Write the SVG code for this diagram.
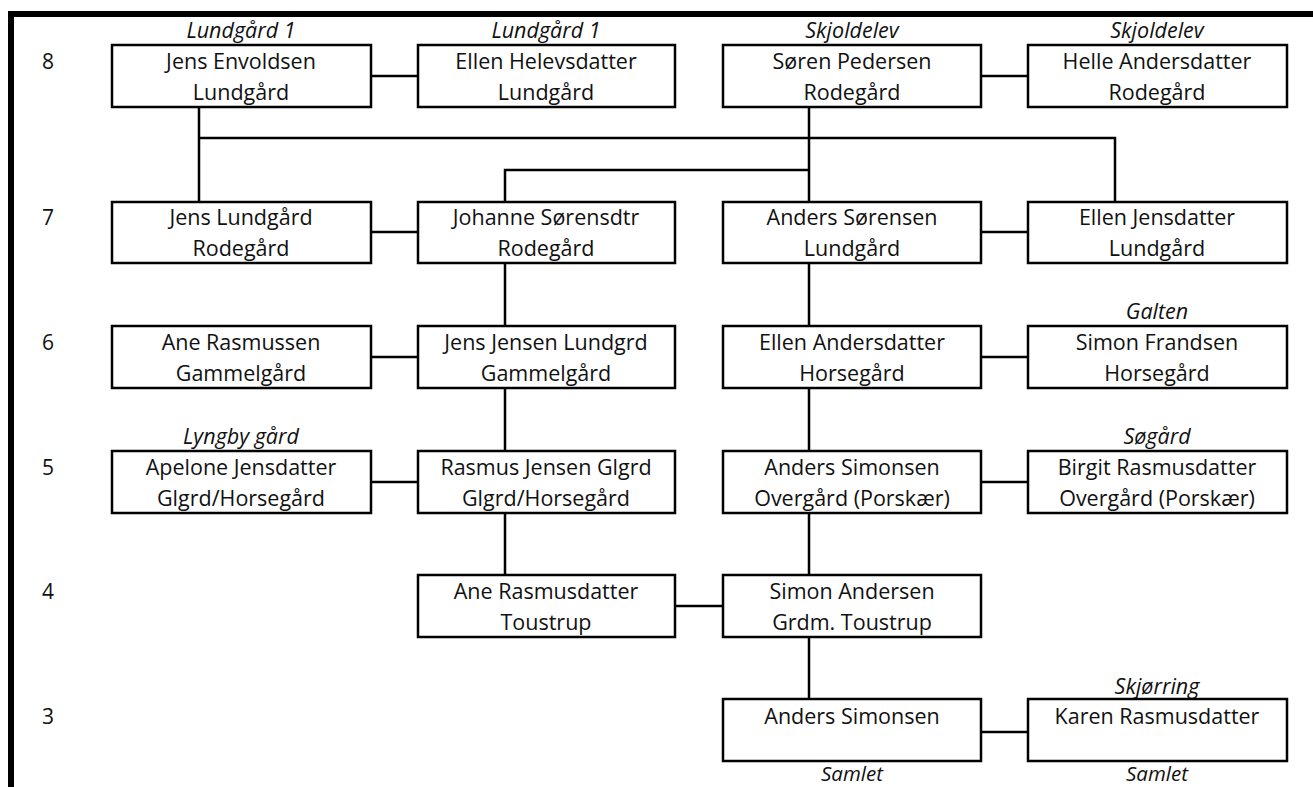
<svg xmlns="http://www.w3.org/2000/svg" width="1313" height="787" viewBox="0 0 1313 787">
<style>
.box{fill:#fff;stroke:#000;stroke-width:2.5}
.ln{stroke:#000;stroke-width:2.5;fill:none}
.nm{font-family:"Open Sans","Liberation Sans",sans-serif;font-size:21.5px;fill:#111;text-anchor:middle}
.pl{font-family:"Open Sans","Liberation Sans",sans-serif;font-size:21.5px;font-style:italic;fill:#111;text-anchor:middle}
.sm{font-family:"Open Sans","Liberation Sans",sans-serif;font-size:20.5px;font-style:italic;fill:#111;text-anchor:middle}
.gn{font-family:"Open Sans","Liberation Sans",sans-serif;font-size:21px;fill:#111;text-anchor:middle}
</style>
<rect width="1313" height="787" fill="#fff"/>
<g id="frame">
<rect x="8" y="11" width="1305" height="6" fill="#000"/>
<rect x="8" y="11" width="6" height="776" fill="#000"/>
</g>
<g id="generations">
<text class="gn" x="48" y="69">8</text>
<text class="gn" x="48" y="225">7</text>
<text class="gn" x="48" y="350">6</text>
<text class="gn" x="48" y="475">5</text>
<text class="gn" x="48" y="599">4</text>
<text class="gn" x="48" y="724">3</text>
</g>
<g id="connectors">
<path class="ln" d="M371 76H418M981 76H1028"/>
<path class="ln" d="M199 107V202M199 138H1115V202M809 107V202M505 202V170H809"/>
<path class="ln" d="M371 232H418M981 232H1028"/>
<path class="ln" d="M505 263V326M809 263V326"/>
<path class="ln" d="M371 357H418M981 357H1028"/>
<path class="ln" d="M505 388V451M809 388V451"/>
<path class="ln" d="M371 482H418M981 482H1028"/>
<path class="ln" d="M505 513V575M809 513V575"/>
<path class="ln" d="M675 606H723"/>
<path class="ln" d="M809 637V699"/>
<path class="ln" d="M981 732H1028"/>
</g>
<g id="n-jens-envoldsen"><text class="pl" x="241" y="38">Lundgård 1</text><rect class="box" x="112" y="45" width="259" height="62"/><text class="nm" x="241" y="69">Jens Envoldsen</text><text class="nm" x="241" y="100">Lundgård</text></g>
<g id="n-ellen-helevsdatter"><text class="pl" x="546" y="38">Lundgård 1</text><rect class="box" x="418" y="45" width="257" height="62"/><text class="nm" x="546" y="69">Ellen Helevsdatter</text><text class="nm" x="546" y="100">Lundgård</text></g>
<g id="n-soeren-pedersen"><text class="pl" x="852" y="38">Skjoldelev</text><rect class="box" x="723" y="45" width="258" height="62"/><text class="nm" x="852" y="69">Søren Pedersen</text><text class="nm" x="852" y="100">Rodegård</text></g>
<g id="n-helle-andersdatter"><text class="pl" x="1157" y="38">Skjoldelev</text><rect class="box" x="1028" y="45" width="259" height="62"/><text class="nm" x="1157" y="69">Helle Andersdatter</text><text class="nm" x="1157" y="100">Rodegård</text></g>

<g id="n-jens-lundgaard"><rect class="box" x="112" y="202" width="259" height="61"/><text class="nm" x="241" y="225">Jens Lundgård</text><text class="nm" x="241" y="256">Rodegård</text></g>
<g id="n-johanne"><rect class="box" x="418" y="202" width="257" height="61"/><text class="nm" x="546" y="225">Johanne Sørensdtr</text><text class="nm" x="546" y="256">Rodegård</text></g>
<g id="n-anders-soerensen"><rect class="box" x="723" y="202" width="258" height="61"/><text class="nm" x="852" y="225">Anders Sørensen</text><text class="nm" x="852" y="256">Lundgård</text></g>
<g id="n-ellen-jensdatter"><rect class="box" x="1028" y="202" width="259" height="61"/><text class="nm" x="1157" y="225">Ellen Jensdatter</text><text class="nm" x="1157" y="256">Lundgård</text></g>

<g id="n-ane-rasmussen"><rect class="box" x="112" y="326" width="259" height="62"/><text class="nm" x="241" y="350">Ane Rasmussen</text><text class="nm" x="241" y="381">Gammelgård</text></g>
<g id="n-jens-jensen"><rect class="box" x="418" y="326" width="257" height="62"/><text class="nm" x="546" y="350">Jens Jensen Lundgrd</text><text class="nm" x="546" y="381">Gammelgård</text></g>
<g id="n-ellen-andersdatter"><rect class="box" x="723" y="326" width="258" height="62"/><text class="nm" x="852" y="350">Ellen Andersdatter</text><text class="nm" x="852" y="381">Horsegård</text></g>
<g id="n-simon-frandsen"><text class="pl" x="1157" y="319">Galten</text><rect class="box" x="1028" y="326" width="259" height="62"/><text class="nm" x="1157" y="350">Simon Frandsen</text><text class="nm" x="1157" y="381">Horsegård</text></g>

<g id="n-apelone"><text class="pl" x="241" y="444">Lyngby gård</text><rect class="box" x="112" y="451" width="259" height="62"/><text class="nm" x="241" y="475">Apelone Jensdatter</text><text class="nm" x="241" y="506">Glgrd/Horsegård</text></g>
<g id="n-rasmus-jensen"><rect class="box" x="418" y="451" width="257" height="62"/><text class="nm" x="546" y="475">Rasmus Jensen Glgrd</text><text class="nm" x="546" y="506">Glgrd/Horsegård</text></g>
<g id="n-anders-simonsen-5"><rect class="box" x="723" y="451" width="258" height="62"/><text class="nm" x="852" y="475">Anders Simonsen</text><text class="nm" x="852" y="506">Overgård (Porskær)</text></g>
<g id="n-birgit"><text class="pl" x="1157" y="444">Søgård</text><rect class="box" x="1028" y="451" width="259" height="62"/><text class="nm" x="1157" y="475">Birgit Rasmusdatter</text><text class="nm" x="1157" y="506">Overgård (Porskær)</text></g>

<g id="n-ane-rasmusdatter"><rect class="box" x="418" y="575" width="257" height="62"/><text class="nm" x="546" y="599">Ane Rasmusdatter</text><text class="nm" x="546" y="630">Toustrup</text></g>
<g id="n-simon-andersen"><rect class="box" x="723" y="575" width="258" height="62"/><text class="nm" x="852" y="599">Simon Andersen</text><text class="nm" x="852" y="630">Grdm. Toustrup</text></g>

<g id="n-anders-simonsen-3"><rect class="box" x="723" y="699" width="258" height="62"/><text class="nm" x="852" y="724">Anders Simonsen</text><text class="sm" x="852" y="781">Samlet</text></g>
<g id="n-karen"><text class="pl" x="1157" y="694">Skjørring</text><rect class="box" x="1028" y="699" width="259" height="62"/><text class="nm" x="1157" y="724">Karen Rasmusdatter</text><text class="sm" x="1157" y="781">Samlet</text></g>
</svg>
